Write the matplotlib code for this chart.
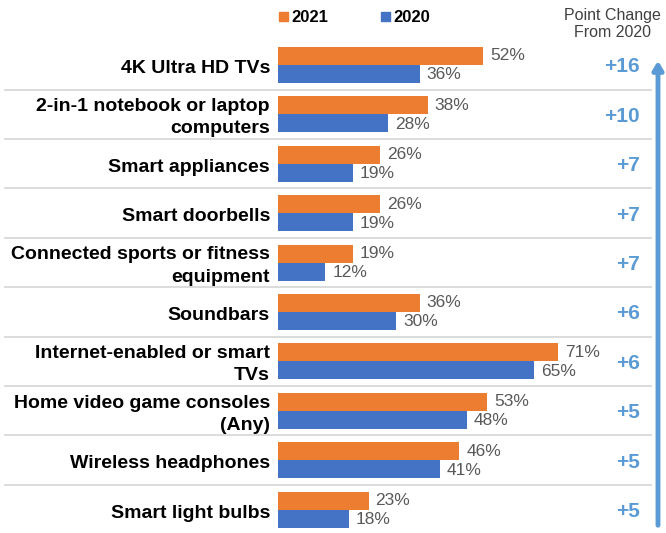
import matplotlib
matplotlib.use("Agg")
import matplotlib.pyplot as plt
from matplotlib.patches import Rectangle

plt.rcParams['font.family'] = ['Liberation Sans', 'DejaVu Sans']

categories = [
    "4K Ultra HD TVs",
    "2-in-1 notebook or laptop\ncomputers",
    "Smart appliances",
    "Smart doorbells",
    "Connected sports or fitness\nequipment",
    "Soundbars",
    "Internet-enabled or smart\nTVs",
    "Home video game consoles\n(Any)",
    "Wireless headphones",
    "Smart light bulbs",
]
values_2021 = [52, 38, 26, 26, 19, 36, 71, 53, 46, 23]
values_2020 = [36, 28, 19, 19, 12, 30, 65, 48, 41, 18]
point_change = ["+16", "+10", "+7", "+7", "+7", "+6", "+6", "+5", "+5", "+5"]

ORANGE = "#ED7D31"
BLUE = "#4472C4"
LIGHT_BLUE = "#5B9BD5"
GRAY_TXT = "#595959"

W, H, DPI = 666, 533, 100
fig = plt.figure(figsize=(W / DPI, H / DPI), dpi=DPI)
ax = fig.add_axes([0, 0, 1, 1])

# pixel-based scale: bars start at x=278 px, 3.94 px per percent
x0_px, px_per = 278, 3.94
ax.set_xlim(-x0_px / px_per, (W - x0_px) / px_per)
row0_px, row_step = 65, 49.4
ax.set_ylim((H - row0_px) / row_step, -row0_px / row_step)
ax.axis("off")

def px_x(p):
    return (p - x0_px) / px_per

def px_y(p):
    return (p - row0_px) / row_step

n = len(categories)
ys = list(range(n))
bh = 18 / row_step
ax.barh([y - bh / 2 for y in ys], values_2021, height=bh, color=ORANGE)
ax.barh([y + bh / 2 for y in ys], values_2020, height=bh, color=BLUE)

gap = 7 / px_per
for y, a, b in zip(ys, values_2021, values_2020):
    ax.text(a + gap, y - bh / 2, f"{a}%", va="center", ha="left",
            fontsize=12.5, color=GRAY_TXT)
    ax.text(b + gap, y + bh / 2 + 0.02, f"{b}%", va="center", ha="left",
            fontsize=12.5, color=GRAY_TXT)

for y, c in zip(ys, categories):
    ax.text(px_x(270), y + 0.07, c, ha="right", va="center", fontsize=14,
            fontweight="bold", color="black", linespacing=1.4)

for y, pc in zip(ys, point_change):
    ax.text(px_x(640), y + 0.04, pc, ha="right", va="center", fontsize=15,
            fontweight="bold", color=LIGHT_BLUE)

# row separators
for y in ys[:-1]:
    ax.plot([px_x(5), px_x(651)], [y + 0.5, y + 0.5], color="#D9D9D9",
            lw=1.3, zorder=0)

# upward arrow along the right edge
ax.annotate("", xy=(px_x(658), px_y(58)), xytext=(px_x(658), px_y(528)),
            arrowprops=dict(arrowstyle="-|>,head_width=0.3,head_length=0.5",
                            color=LIGHT_BLUE, lw=3.5))

# legend
for sx, label, col in [(279, "2021", ORANGE), (381, "2020", BLUE)]:
    ax.add_patch(Rectangle((px_x(sx), px_y(12)), 9 / px_per, 9 / row_step,
                           color=col, clip_on=False))
    ax.text(px_x(sx + 12), px_y(17), label, ha="left", va="center",
            fontsize=12, fontweight="bold", color="black")

ax.text(px_x(612), px_y(24), "Point Change\nFrom 2020", ha="center",
        va="center", fontsize=11.5, color="#404040", linespacing=1.15)

fig.savefig("out.png", dpi=DPI)
